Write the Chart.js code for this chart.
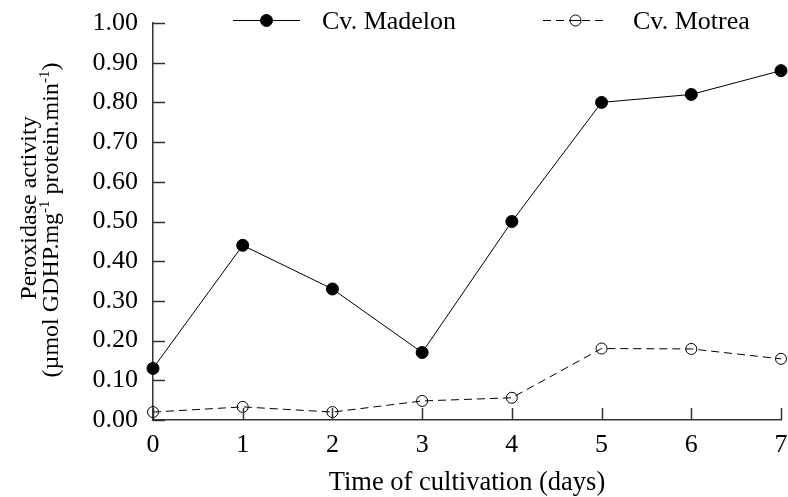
<!DOCTYPE html>
<html>
<head>
<meta charset="utf-8">
<script src="https://cdn.jsdelivr.net/npm/chart.js@4/dist/chart.umd.min.js"></script>
<style>
  html, body { margin: 0; padding: 0; background: #fff; }
  #wrap { width: 788px; height: 497px; }
</style>
</head>
<body>
<div id="wrap"><canvas id="peroxChart" width="788" height="497"></canvas></div>
<script>
// values
const days = [0, 1, 2, 3, 4, 5, 6, 7];
const madelon = [0.13, 0.44, 0.33, 0.17, 0.50, 0.80, 0.82, 0.88];
const motrea = [0.02, 0.033, 0.02, 0.048, 0.056, 0.18, 0.179, 0.154];
const seriesNames = ['Cv. Madelon', 'Cv. Motrea'];
const yTitleLine1 = 'Peroxidase activity';
const yTitleLine2 = [['(µmol GDHP.mg', false], ['-1', true], [' protein.min', false], ['-1', true], [')', false]];
const xTitle = 'Time of cultivation (days)';

const serif = '"Liberation Serif", "Times New Roman", serif';
const axisColor = '#333';

function toPoints(vals) {
    return days.map((d, i) => ({ x: d, y: vals[i] }));
}

// inward tick marks, like the original figure
const innerTicks = {
    id: 'innerTicks',
    afterDraw(chart) {
        const ctx = chart.ctx;
        const xs = chart.scales.x, ys = chart.scales.y;
        const len = 12;
        ctx.save();
        ctx.strokeStyle = axisColor;
        ctx.lineWidth = 1.5;
        ctx.beginPath();
        ys.ticks.forEach(t => {
            const py = Math.round(ys.getPixelForValue(t.value)) + 0.5;
            ctx.moveTo(xs.left, py);
            ctx.lineTo(xs.left + len, py);
        });
        xs.ticks.forEach(t => {
            const px = Math.round(xs.getPixelForValue(t.value)) + 0.5;
            ctx.moveTo(px, ys.bottom);
            ctx.lineTo(px, ys.bottom - len);
        });
        ctx.stroke();
        ctx.restore();
    }
};

// axis titles, with superscripts on the y title
const axisTitles = {
    id: 'axisTitles',
    afterDraw(chart) {
        const ctx = chart.ctx;
        const area = chart.chartArea;
        ctx.save();
        ctx.fillStyle = '#000';
        ctx.textBaseline = 'alphabetic';

        ctx.font = '26.5px ' + serif;
        ctx.textAlign = 'center';
        ctx.fillText(xTitle, (area.left + area.right) / 2, 490);

        ctx.rotate(-Math.PI / 2);
        ctx.font = '24px ' + serif;
        ctx.textAlign = 'center';
        ctx.fillText(yTitleLine1, -208, 36);

        // second line built from runs
        const bigFont = '24px ' + serif, supFont = '15px ' + serif;
        let total = 0;
        yTitleLine2.forEach(([t, sup]) => {
            ctx.font = sup ? supFont : bigFont;
            total += ctx.measureText(t).width;
        });
        let cx = -220 - total / 2;
        ctx.textAlign = 'left';
        yTitleLine2.forEach(([t, sup]) => {
            ctx.font = sup ? supFont : bigFont;
            ctx.fillText(t, cx, sup ? 49 : 58);
            cx += ctx.measureText(t).width;
        });
        ctx.restore();
    }
};

// legend drawn as line + marker + label
const lineLegend = {
    id: 'lineLegend',
    afterDraw(chart) {
        const ctx = chart.ctx;
        const spots = [
            { x1: 233, x2: 300, tx: 322 },
            { x1: 543, x2: 608, tx: 633 }
        ];
        const y = 20;
        ctx.save();
        chart.data.datasets.forEach((ds, i) => {
            const s = spots[i];
            const hollow = ds.pointBackgroundColor === 'rgba(0,0,0,0)';
            ctx.strokeStyle = ds.borderColor;
            ctx.lineWidth = ds.borderWidth;
            ctx.setLineDash(ds.borderDash || []);
            ctx.beginPath();
            ctx.moveTo(s.x1, y + 0.5);
            ctx.lineTo(s.x2, y + 0.5);
            ctx.stroke();
            ctx.setLineDash([]);
            const mx = (s.x1 + s.x2) / 2;
            ctx.beginPath();
            ctx.arc(mx, y + 0.5, ds.pointRadius, 0, Math.PI * 2);
            if (!hollow) {
                ctx.fillStyle = ds.pointBackgroundColor;
                ctx.fill();
            }
            ctx.lineWidth = ds.pointBorderWidth;
            ctx.strokeStyle = ds.pointBorderColor;
            ctx.stroke();
            if (hollow) {
                ctx.beginPath();
                ctx.moveTo(mx - ds.pointRadius, y + 0.5);
                ctx.lineTo(mx + ds.pointRadius, y + 0.5);
                ctx.lineWidth = 1;
                ctx.stroke();
            }
            ctx.fillStyle = '#000';
            ctx.font = '26px ' + serif;
            ctx.textAlign = 'left';
            ctx.textBaseline = 'alphabetic';
            ctx.fillText(ds.label, s.tx, 29);
        });
        ctx.restore();
    }
};

document.addEventListener('DOMContentLoaded', () => {
    const ctx = document.getElementById('peroxChart').getContext('2d');
    window.peroxChart = new Chart(ctx, {
        type: 'line',
        data: {
            datasets: [{
                label: seriesNames[0],
                data: toPoints(madelon),
                borderColor: '#000',
                borderWidth: 1,
                pointRadius: 6,
                pointBackgroundColor: '#000',
                pointBorderColor: '#000',
                pointBorderWidth: 1,
                tension: 0,
                clip: false
            }, {
                label: seriesNames[1],
                data: toPoints(motrea),
                borderColor: '#000',
                borderWidth: 1,
                borderDash: [8, 5],
                pointRadius: 5.5,
                pointBackgroundColor: 'rgba(0,0,0,0)',
                pointBorderColor: '#000',
                pointBorderWidth: 1,
                tension: 0,
                clip: false
            }]
        },
        options: {
            responsive: false,
            animation: false,
            layout: { padding: { top: 23, right: 6, left: 0, bottom: 0 } },
            plugins: {
                legend: { display: false },
                tooltip: { enabled: false }
            },
            scales: {
                x: {
                    type: 'linear',
                    min: 0,
                    max: 7,
                    grid: { drawOnChartArea: false, drawTicks: false },
                    border: { color: axisColor, width: 1.5 },
                    ticks: {
                        stepSize: 1,
                        padding: 10,
                        color: '#000',
                        font: { family: serif, size: 26 }
                    },
                    afterFit(scale) {
                        scale.height = 77;
                        scale.paddingLeft = 0;
                        scale.paddingRight = 0;
                    }
                },
                y: {
                    min: 0,
                    max: 1,
                    grid: { drawOnChartArea: false, drawTicks: false },
                    border: { color: axisColor, width: 1.5 },
                    ticks: {
                        stepSize: 0.1,
                        padding: 15,
                        color: '#000',
                        font: { family: serif, size: 26 },
                        callback: v => v.toFixed(2)
                    },
                    afterFit(scale) {
                        scale.width = 153;
                        scale.paddingTop = 0;
                        scale.paddingBottom = 0;
                    }
                }
            }
        },
        plugins: [innerTicks, axisTitles, lineLegend]
    });
});
</script>
</body>
</html>
